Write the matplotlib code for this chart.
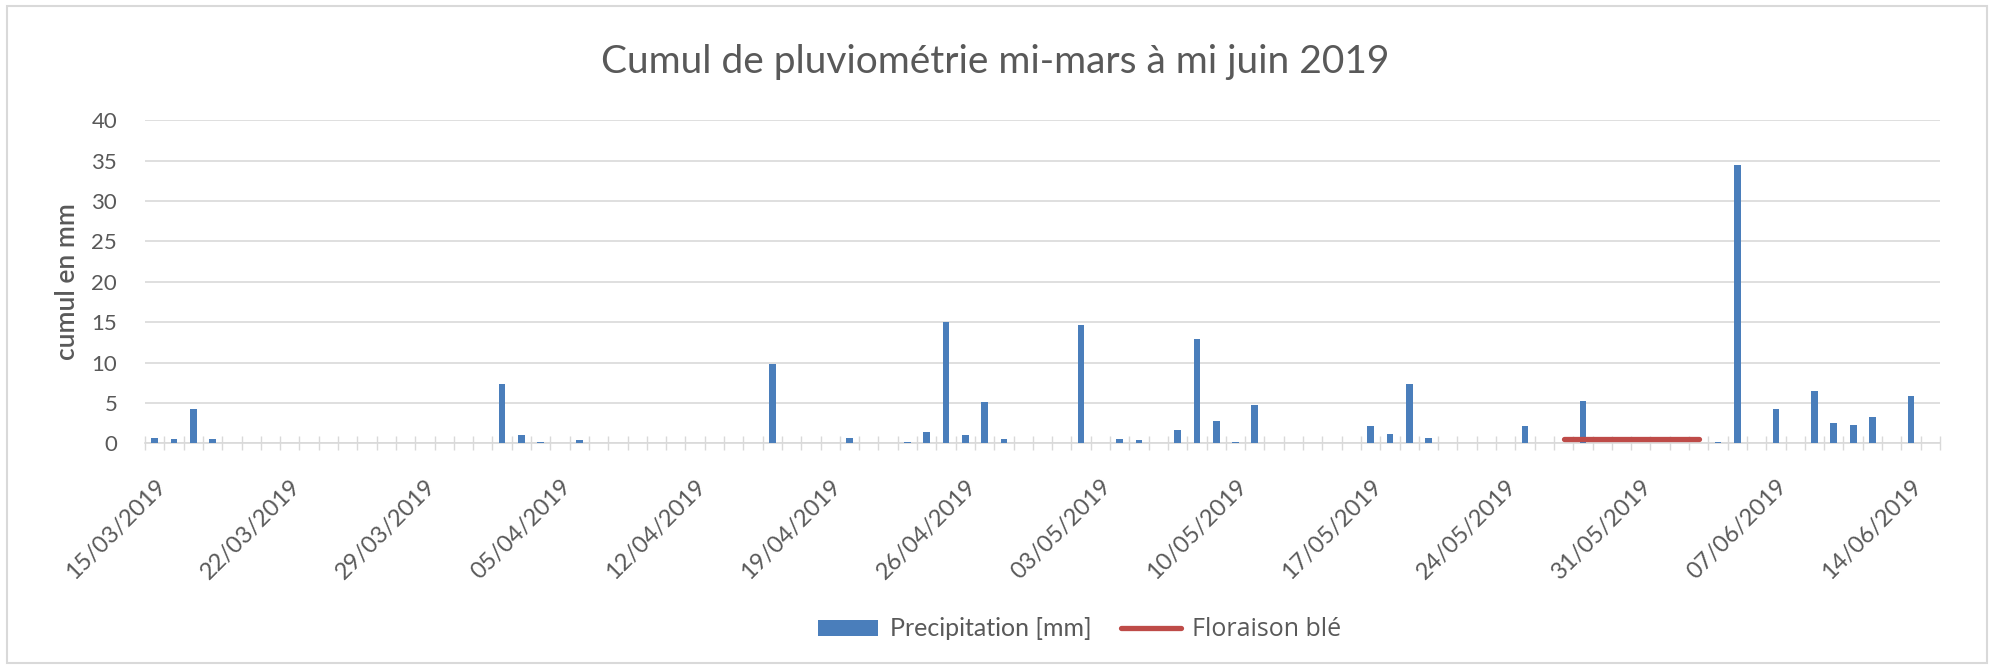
import matplotlib
matplotlib.use("Agg")
import matplotlib.pyplot as plt
from matplotlib.patches import Rectangle, Patch
from matplotlib.lines import Line2D
import numpy as np
import pandas as pd

# ---- data ----
dates = pd.date_range("2019-03-15", "2019-06-15", freq="D")
date_labels = [d.strftime("%d/%m/%Y") for d in dates]

precipitation = [
    0.7, 0.5, 4.2, 0.5, 0, 0, 0, 0, 0, 0,          # 15/03 - 24/03
    0, 0, 0, 0, 0, 0, 0, 0, 7.4, 1.0,              # 25/03 - 03/04
    0.2, 0, 0.4, 0, 0, 0, 0, 0, 0, 0,              # 04/04 - 13/04
    0, 0, 9.8, 0, 0, 0, 0.6, 0, 0, 0.2,            # 14/04 - 23/04
    1.4, 15.0, 1.0, 5.1, 0.5, 0, 0, 0, 14.6, 0,    # 24/04 - 03/05
    0.5, 0.4, 0, 1.6, 12.9, 2.7, 0.2, 4.7, 0, 0,   # 04/05 - 13/05
    0, 0, 0, 2.1, 1.2, 7.3, 0.6, 0, 0, 0,          # 14/05 - 23/05
    0, 2.1, 0, 0, 5.2, 0, 0, 0, 0, 0,              # 24/05 - 02/06
    0, 0.2, 34.5, 0, 4.2, 0, 6.5, 2.5, 2.3, 3.2,   # 03/06 - 12/06
    0, 5.8, 0,                                     # 13/06 - 15/06
]

floraison_start = "27/05/2019"
floraison_end = "03/06/2019"
floraison_level = 0.5

label_every = 7
last_label = "14/06/2019"
y_ticks = [0, 5, 10, 15, 20, 25, 30, 35, 40]

title = "Cumul de pluviométrie mi-mars à mi juin 2019"
ylabel = "cumul en mm"
legend_bar = "Precipitation [mm]"
legend_line = "Floraison blé"

# ---- style ----
BLUE = "#4A7EBB"
RED = "#BE4B48"
GRID = "#D9D9D9"
TXT = "#595959"
plt.rcParams["font.family"] = ["Lato", "DejaVu Sans"]

fig = plt.figure(figsize=(19.91, 6.66), dpi=100)
ax = fig.add_axes([145 / 1991, 1 - 443.3 / 666, (1940 - 145) / 1991, (443.3 - 120.3) / 666])

x = np.arange(len(dates))
ax.bar(x, precipitation, width=0.35, color=BLUE, zorder=3)

idx0 = date_labels.index(floraison_start)
idx1 = date_labels.index(floraison_end)
flo = np.full(len(dates), np.nan)
flo[idx0:idx1 + 1] = floraison_level
ax.plot(x, flo, color=RED, lw=3.8, solid_capstyle="round", zorder=4)

ax.set_xlim(-0.5, len(dates) - 0.5)
ax.set_ylim(0, 40)
ax.set_yticks(y_ticks)
ax.yaxis.grid(True, color=GRID, lw=1.2, zorder=0)
ax.set_axisbelow(True)
for s in ["top", "right", "left"]:
    ax.spines[s].set_visible(False)
ax.spines["bottom"].set_color(GRID)
ax.spines["bottom"].set_linewidth(1.2)
ax.spines["bottom"].set_zorder(2)

ax.tick_params(axis="y", length=0, pad=20, labelsize=16, labelcolor=TXT)

# daily tick marks at category boundaries
ax.set_xticks(np.arange(-0.5, len(dates), 1.0))
ax.set_xticklabels([])
ax.tick_params(axis="x", which="major", direction="inout", length=10, width=1.0, color=GRID)
# weekly labels at category centers
last_idx = date_labels.index(last_label)
lab_pos = [p for p in x[::label_every] if p <= last_idx]
ax.set_xticks(lab_pos, minor=True)
ax.set_xticklabels([date_labels[p] for p in lab_pos], minor=True, rotation=45,
                   ha="right", va="top", rotation_mode="anchor")
ax.tick_params(axis="x", which="minor", length=0, pad=23, labelsize=17, labelcolor=TXT)

ax.set_ylabel(ylabel, fontsize=19, color=TXT, fontweight="semibold")
ax.yaxis.set_label_coords(-(145 - 80) / 1795, 0.5)

fig.text(0.5, 1 - 62 / 666, title, ha="center", va="center", fontsize=28,
         color=TXT, fontweight="normal")

handles = [Patch(facecolor=BLUE, edgecolor="none"),
           Line2D([0], [0], color=RED, lw=3.8, solid_capstyle="round")]
leg = fig.legend(handles, [legend_bar, legend_line], loc="center",
                 bbox_to_anchor=(1080 / 1991, 1 - 630 / 666), ncol=2, frameon=False,
                 fontsize=18, handlelength=2.4, handleheight=0.6, handletextpad=0.45,
                 columnspacing=1.2)
for t in leg.get_texts():
    t.set_color(TXT)
leg.get_texts()[1].set_family(["Open Sans", "DejaVu Sans"])

fig.patches.append(Rectangle((7 / 1991, 1 - 663 / 666), (1987 - 7) / 1991, (663 - 6) / 666,
                             transform=fig.transFigure, fill=False, edgecolor=GRID, lw=1.5))

fig.savefig("out.png", dpi=100, facecolor="white")
